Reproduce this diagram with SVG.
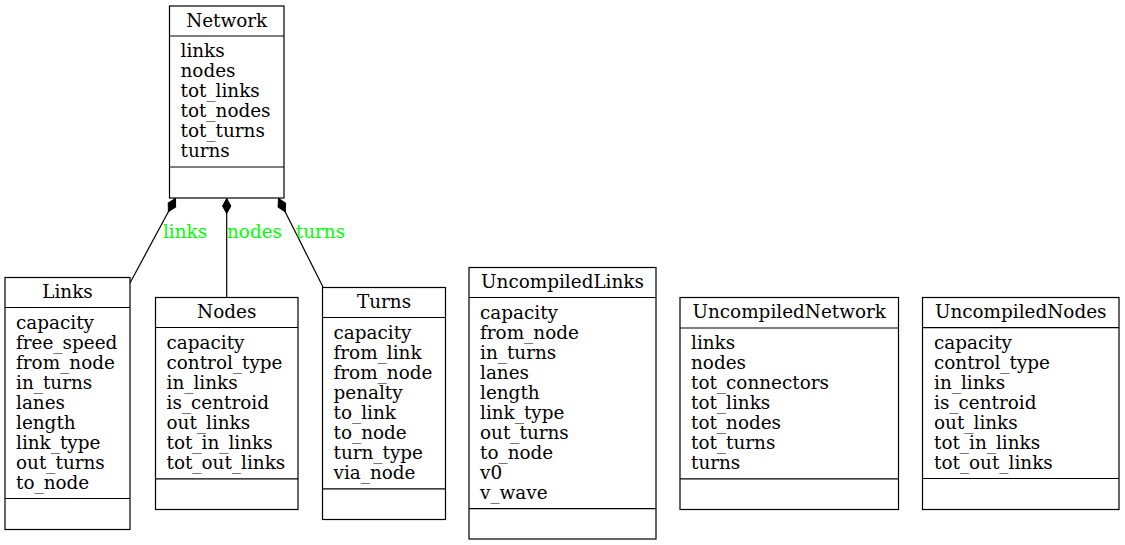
<svg xmlns="http://www.w3.org/2000/svg" width="1125" height="545" viewBox="0 0 1125 545">
<style>
.box{fill:#fff;stroke:#000;stroke-width:1.2}
.sep{stroke:#000;stroke-width:1.2}
text{font-family:"DejaVu Serif","Liberation Serif",serif;font-size:18.4px;fill:#000}
.t{text-anchor:middle}
.lbl{fill:#00ff00;text-anchor:middle}
.edge{stroke:#000;stroke-width:1.2;fill:none}
</style>
<defs>
<marker id="dia" markerUnits="userSpaceOnUse" markerWidth="20" markerHeight="20" refX="0" refY="0" orient="auto" overflow="visible">
<path d="M0,0 L-7.5,-4.2 L-15,0 L-7.5,4.2 Z" fill="#000" stroke="#000" stroke-width="1"/>
</marker>
</defs>
<rect width="1125" height="545" fill="#fff"/>
<g id="connectors">
<path class="edge" d="M130,283 L175.5,198.5" marker-end="url(#dia)"/>
<path class="edge" d="M226.7,297.5 L226.7,198.5" marker-end="url(#dia)"/>
<path class="edge" d="M323,287 L278.5,198.5" marker-end="url(#dia)"/>
<text class="lbl" x="185" y="238">links</text>
<text class="lbl" x="254.5" y="238">nodes</text>
<text class="lbl" x="320.5" y="238">turns</text>
</g>
<g id="Network">
<rect class="box" x="169.5" y="6" width="114.5" height="192"/>
<line class="sep" x1="169.5" y1="36" x2="284" y2="36"/>
<line class="sep" x1="169.5" y1="167" x2="284" y2="167"/>
<text class="t" x="226.7" y="26.5">Network</text>
<text x="180.5" y="57">links</text>
<text x="180.5" y="77">nodes</text>
<text x="180.5" y="97">tot_links</text>
<text x="180.5" y="117">tot_nodes</text>
<text x="180.5" y="137">tot_turns</text>
<text x="180.5" y="157">turns</text>
</g>
<g id="Links">
<rect class="box" x="5" y="277.5" width="125" height="252"/>
<line class="sep" x1="5" y1="307.5" x2="130" y2="307.5"/>
<line class="sep" x1="5" y1="498.5" x2="130" y2="498.5"/>
<text class="t" x="67.5" y="298">Links</text>
<text x="16" y="328.5">capacity</text>
<text x="16" y="348.5">free_speed</text>
<text x="16" y="368.5">from_node</text>
<text x="16" y="388.5">in_turns</text>
<text x="16" y="408.5">lanes</text>
<text x="16" y="428.5">length</text>
<text x="16" y="448.5">link_type</text>
<text x="16" y="468.5">out_turns</text>
<text x="16" y="488.5">to_node</text>
</g>
<g id="Nodes">
<rect class="box" x="155.5" y="297.5" width="142.5" height="212"/>
<line class="sep" x1="155.5" y1="327.5" x2="298" y2="327.5"/>
<line class="sep" x1="155.5" y1="478.8" x2="298" y2="478.8"/>
<text class="t" x="226.7" y="318">Nodes</text>
<text x="166.5" y="348.5">capacity</text>
<text x="166.5" y="368.5">control_type</text>
<text x="166.5" y="388.5">in_links</text>
<text x="166.5" y="408.5">is_centroid</text>
<text x="166.5" y="428.5">out_links</text>
<text x="166.5" y="448.5">tot_in_links</text>
<text x="166.5" y="468.5">tot_out_links</text>
</g>
<g id="Turns">
<rect class="box" x="322.5" y="287.5" width="123" height="232"/>
<line class="sep" x1="322.5" y1="317.5" x2="445.5" y2="317.5"/>
<line class="sep" x1="322.5" y1="488.8" x2="445.5" y2="488.8"/>
<text class="t" x="384" y="308">Turns</text>
<text x="333.5" y="338.5">capacity</text>
<text x="333.5" y="358.5">from_link</text>
<text x="333.5" y="378.5">from_node</text>
<text x="333.5" y="398.5">penalty</text>
<text x="333.5" y="418.5">to_link</text>
<text x="333.5" y="438.5">to_node</text>
<text x="333.5" y="458.5">turn_type</text>
<text x="333.5" y="478.5">via_node</text>
</g>
<g id="UncompiledLinks">
<rect class="box" x="469" y="267.5" width="187" height="271.5"/>
<line class="sep" x1="469" y1="297.5" x2="656" y2="297.5"/>
<line class="sep" x1="469" y1="508.6" x2="656" y2="508.6"/>
<text class="t" x="562.5" y="288">UncompiledLinks</text>
<text x="480" y="318.5">capacity</text>
<text x="480" y="338.5">from_node</text>
<text x="480" y="358.5">in_turns</text>
<text x="480" y="378.5">lanes</text>
<text x="480" y="398.5">length</text>
<text x="480" y="418.5">link_type</text>
<text x="480" y="438.5">out_turns</text>
<text x="480" y="458.5">to_node</text>
<text x="480" y="478.5">v0</text>
<text x="480" y="498.5">v_wave</text>
</g>
<g id="UncompiledNetwork">
<rect class="box" x="680" y="297.5" width="218.5" height="212"/>
<line class="sep" x1="680" y1="328" x2="898.5" y2="328"/>
<line class="sep" x1="680" y1="478.8" x2="898.5" y2="478.8"/>
<text class="t" x="789.2" y="318">UncompiledNetwork</text>
<text x="691" y="348.5">links</text>
<text x="691" y="368.5">nodes</text>
<text x="691" y="388.5">tot_connectors</text>
<text x="691" y="408.5">tot_links</text>
<text x="691" y="428.5">tot_nodes</text>
<text x="691" y="448.5">tot_turns</text>
<text x="691" y="468.5">turns</text>
</g>
<g id="UncompiledNodes">
<rect class="box" x="922.5" y="297.5" width="196.5" height="212"/>
<line class="sep" x1="922.5" y1="327.7" x2="1119" y2="327.7"/>
<line class="sep" x1="922.5" y1="478.5" x2="1119" y2="478.5"/>
<text class="t" x="1020.7" y="318">UncompiledNodes</text>
<text x="934" y="348.5">capacity</text>
<text x="934" y="368.5">control_type</text>
<text x="934" y="388.5">in_links</text>
<text x="934" y="408.5">is_centroid</text>
<text x="934" y="428.5">out_links</text>
<text x="934" y="448.5">tot_in_links</text>
<text x="934" y="468.5">tot_out_links</text>
</g>
</svg>
